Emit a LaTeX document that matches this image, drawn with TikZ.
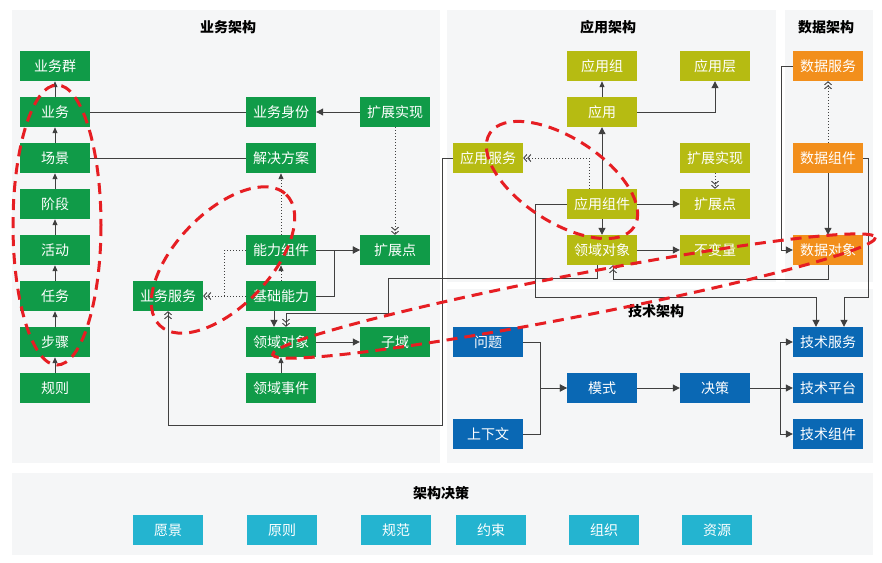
\documentclass[tikz,border=0pt]{standalone}
\usepackage{fontspec}
\setmainfont{Noto Sans CJK SC}
\usetikzlibrary{arrows.meta,calc}
\definecolor{panelbg}{RGB}{245,246,247}
\definecolor{cgreen}{RGB}{16,155,72}
\definecolor{colive}{RGB}{182,187,18}
\definecolor{corange}{RGB}{242,143,28}
\definecolor{cblue}{RGB}{10,104,180}
\definecolor{ccyan}{RGB}{36,180,208}
\definecolor{cred}{RGB}{230,30,35}
\definecolor{cline}{RGB}{64,64,64}
\tikzset{
  box/.style={minimum width=70pt, minimum height=30pt, inner sep=0pt, text=white,
    font=\fontsize{14}{14}\selectfont},
  gbox/.style={box, fill=cgreen},
  obox/.style={box, fill=colive},
  rbox/.style={box, fill=corange},
  bbox/.style={box, fill=cblue},
  cbox/.style={box, fill=ccyan},
  panel/.style={fill=panelbg, draw=none},
  ptitle/.style={font=\bfseries\fontsize{14}{14}\selectfont, text=black},
  ln/.style={draw=cline, line width=1pt},
  arr/.style={ln, -{Triangle[length=7pt,width=7pt]}},
  sarr/.style={ln, -{Triangle[length=6pt,width=5pt]}},
  dotln/.style={draw=cline, line width=1pt, dotted},
  darr/.style={dotln, -{Triangle[length=6pt,width=5pt]}},
  chev/.style={-{Straight Barb[length=3pt,width=7pt,line width=0.9pt]Straight Barb[length=3pt,width=7pt,line width=0.9pt]}},
  rd/.style={draw=cred, line width=3pt, dash pattern=on 11pt off 7pt},
}
\begin{document}
\begin{tikzpicture}[x=1pt,y=-1pt]
\fill[white] (0,0) rectangle (882,562);
\useasboundingbox (0,0) rectangle (882,562);
% panels
\fill[panel] (12,10) rectangle (440,463);
\fill[panel] (447,10) rectangle (776,282);
\fill[panel] (785,10) rectangle (873,282);
\fill[panel] (447,289) rectangle (873,463);
\fill[panel] (12,473) rectangle (873,555);
% titles
\node[ptitle] (t1) at (228,27) {业务架构};
\node[ptitle] (t2) at (608,27) {应用架构};
\node[ptitle] (t3) at (826,27) {数据架构};
\node[ptitle] (t4) at (656,311) {技术架构};
\node[ptitle] (t5) at (441,493) {架构决策};
% business
\node[gbox] (bg1) at (55,66) {业务群};
\node[gbox] (yw) at (55,112) {业务};
\node[gbox] (cj) at (55,158) {场景};
\node[gbox] (jd) at (55,204) {阶段};
\node[gbox] (hd) at (55,250) {活动};
\node[gbox] (rw) at (55,296) {任务};
\node[gbox] (bz) at (55,342) {步骤};
\node[gbox] (gz) at (55,388) {规则};
\node[gbox] (sf) at (281,112) {业务身份};
\node[gbox] (ja) at (281,158) {解决方案};
\node[gbox] (nlzj) at (281,250) {能力组件};
\node[gbox] (jcnl) at (281,296) {基础能力};
\node[gbox] (lydx) at (281,342) {领域对象};
\node[gbox] (lysj) at (281,388) {领域事件};
\node[gbox] (kzsx) at (395,112) {扩展实现};
\node[gbox] (kzd) at (395,250) {扩展点};
\node[gbox] (zy) at (395,342) {子域};
\node[gbox] (ywfw) at (168,296) {业务服务};
% application
\node[obox] (yyz) at (602,66) {应用组};
\node[obox] (yyc) at (715,66) {应用层};
\node[obox] (yy) at (602,112) {应用};
\node[obox] (yyfw) at (488,158) {应用服务};
\node[obox] (akzsx) at (715,158) {扩展实现};
\node[obox] (yyzj) at (602,204) {应用组件};
\node[obox] (akzd) at (715,204) {扩展点};
\node[obox] (alydx) at (602,250) {领域对象};
\node[obox] (bbl) at (715,250) {不变量};
% data
\node[rbox] (sjfw) at (828,66) {数据服务};
\node[rbox] (sjzj) at (828,158) {数据组件};
\node[rbox] (sjdx) at (828,250) {数据对象};
% tech
\node[bbox] (wt) at (488,342) {问题};
\node[bbox] (sxw) at (488,434) {上下文};
\node[bbox] (ms) at (602,388) {模式};
\node[bbox] (jc) at (715,388) {决策};
\node[bbox] (jsfw) at (828,342) {技术服务};
\node[bbox] (jspt) at (828,388) {技术平台};
\node[bbox] (jszj) at (828,434) {技术组件};
% decisions
\node[cbox] (d1) at (168,530) {愿景};
\node[cbox] (d2) at (282,530) {原则};
\node[cbox] (d3) at (396,530) {规范};
\node[cbox] (d4) at (491,530) {约束};
\node[cbox] (d5) at (604,530) {组织};
\node[cbox] (d6) at (717,530) {资源};
% business connectors
\draw[sarr] (yw) -- (bg1);
\draw[sarr] (cj) -- (yw);
\draw[sarr] (jd) -- (cj);
\draw[sarr] (hd) -- (jd);
\draw[sarr] (rw) -- (hd);
\draw[sarr] (bz) -- (rw);
\draw[sarr] (gz) -- (bz);
\draw[ln] (yw.east) -- (sf.west);
\draw[ln] (cj.east) -- (ja.west);
\draw[arr] (kzsx) -- (sf);
\draw[dotln, chev] (kzsx) -- (kzd);
\draw[darr] (nlzj) -- (ja);
\draw[darr] (jcnl) -- (nlzj);
\draw[arr] (nlzj) -- (kzd);
\draw[arr] (jcnl.east) -- ++(18,0) |- (kzd.west);
\draw[dotln] (nlzj.west) -- ++(-21,0) -- ++(0,46);
\draw[dotln, chev] (jcnl) -- (ywfw);
\draw[arr] ([xshift=-7pt]jcnl.south) -- ([xshift=-7pt]lydx.north);
\draw[ln, chev] ([xshift=-5pt]alydx.south) |- (388,278) -- (388,313) -| ([xshift=5pt]lydx.north);
\draw[arr] (lydx) -- (zy);
\draw[sarr] (lysj) -- (lydx);
\draw[ln, chev] (yyfw.west) -| (442,425) -| (ywfw.south);
% application connectors
\draw[sarr] (yy) -- (yyz);
\draw[arr] (yy.east) -| (yyc.south);
\draw[arr] (yyzj) -- (yy);
\draw[dotln, chev] ([xshift=-13pt]yyzj.north) |- (yyfw.east);
\draw[arr] (yyzj) -- (akzd);
\draw[dotln, chev] (akzsx) -- (akzd);
\draw[arr] (yyzj) -- (alydx);
\draw[arr] (alydx) -- (bbl);
\draw[arr] (yyzj.west) -| (535,297) -| ([xshift=-12pt]jsfw.north);
\draw[arr] (sjzj.east) -| (868,297) -| ([xshift=16pt]jsfw.north);
\draw[ln, chev] (sjdx.south) -- ++(0,14) -| ([xshift=11pt]alydx.south);
% data connectors
\draw[arr] (sjfw.west) -- ++(-11,0) |- (sjdx.west);
\draw[dotln, chev] (sjzj) -- (sjfw);
\draw[arr] (sjzj) -- (sjdx);
% tech connectors
\draw[arr] (wt.east) -- ++(17,0) |- (ms.west);
\draw[arr] (sxw.east) -- ++(17,0) |- (ms.west);
\draw[arr] (ms) -- (jc);
\draw[arr] (jc.east) -- ++(30,0) |- (jsfw.west);
\draw[arr] (jc) -- (jspt);
\draw[arr] (jc.east) -- ++(30,0) |- (jszj.west);
% red dashed ellipses
\draw[rd] (57,225) ellipse [x radius=44, y radius=140];
\draw[rd, rotate around={46:(223,260)}] (223,260) ellipse [x radius=91, y radius=47];
\draw[rd, rotate around={-33:(562,180)}] (562,180) ellipse [x radius=86, y radius=42];
\draw[rd, rotate around={11:(574,296)}] (574,296) ellipse [x radius=307, y radius=21];
\end{tikzpicture}
\end{document}
